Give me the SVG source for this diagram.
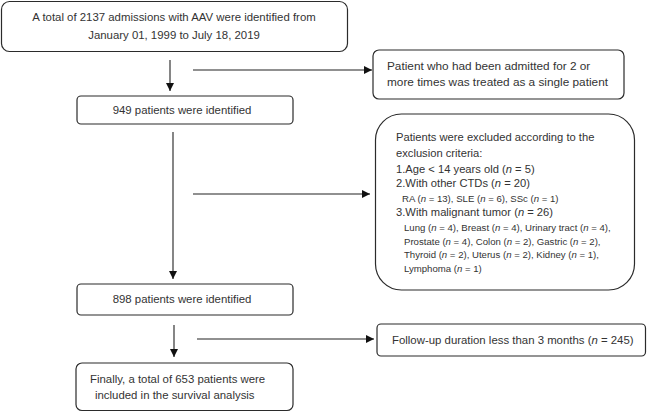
<svg xmlns="http://www.w3.org/2000/svg" width="647" height="412" viewBox="0 0 647 412">
<style>
.box{fill:#fff;stroke:#2b2b2b;stroke-width:1.2}
.t{font-family:"Liberation Sans",Arial,sans-serif;font-size:11.4px;fill:#333}
.s{font-family:"Liberation Sans",Arial,sans-serif;font-size:9.6px;fill:#333}
.m{font-size:11.2px}
.b2{font-size:11.8px}
.c{text-anchor:middle}
.ln{stroke:#222;stroke-width:1.1;fill:none}
</style>
<defs>
<marker id="ah" viewBox="0 0 10 10" refX="10" refY="5" markerWidth="8" markerHeight="8" markerUnits="userSpaceOnUse" orient="auto">
<path d="M0,0 L10,5 L0,10 z" fill="#111"/>
</marker>
</defs>
<rect width="647" height="412" fill="#fff"/>
<g id="connectors">
<line class="ln" x1="170" y1="60" x2="170" y2="91" marker-end="url(#ah)"/>
<line class="ln" x1="193" y1="70" x2="372" y2="70" marker-end="url(#ah)"/>
<line class="ln" x1="173" y1="132" x2="173" y2="279" marker-end="url(#ah)"/>
<line class="ln" x1="193" y1="194" x2="370" y2="194" marker-end="url(#ah)"/>
<line class="ln" x1="174" y1="325" x2="174" y2="357" marker-end="url(#ah)"/>
<line class="ln" x1="197" y1="339" x2="374" y2="339" marker-end="url(#ah)"/>
</g>
<g id="n1">
<rect class="box" x="1.5" y="1.5" width="346" height="50" rx="8"/>
<text class="t c" x="174" y="21">A total of 2137 admissions with AAV were identified from</text>
<text class="t c" x="174" y="39">January 01, 1999 to July 18, 2019</text>
</g>
<g id="n2">
<rect class="box" x="373" y="50" width="251" height="49" rx="6"/>
<text class="t b2" x="387" y="70">Patient who had been admitted for 2 or</text>
<text class="t b2" x="387" y="86">more times was treated as a single patient</text>
</g>
<g id="n3">
<rect class="box" x="77" y="96" width="216" height="28" rx="4"/>
<text class="t c" x="182" y="114">949 patients were identified</text>
</g>
<g id="n4">
<rect class="box" x="375.5" y="114" width="259" height="176" rx="26"/>
<text class="t m" x="396" y="141">Patients were excluded according to the</text>
<text class="t m" x="396" y="157">exclusion criteria:</text>
<text class="t m" x="396" y="173">1.Age &lt; 14 years old (<tspan font-style="italic">n</tspan> = 5)</text>
<text class="t m" x="396" y="187">2.With other CTDs (<tspan font-style="italic">n</tspan> = 20)</text>
<text class="s" x="402" y="202">RA (<tspan font-style="italic">n</tspan> = 13), SLE (<tspan font-style="italic">n</tspan> = 6), SSc (<tspan font-style="italic">n</tspan> = 1)</text>
<text class="t m" x="396" y="216">3.With malignant tumor (<tspan font-style="italic">n</tspan> = 26)</text>
<text class="s" x="404" y="231">Lung (<tspan font-style="italic">n</tspan> = 4), Breast (<tspan font-style="italic">n</tspan> = 4), Urinary tract (<tspan font-style="italic">n</tspan> = 4),</text>
<text class="s" x="404" y="245">Prostate (<tspan font-style="italic">n</tspan> = 4), Colon (<tspan font-style="italic">n</tspan> = 2), Gastric (<tspan font-style="italic">n</tspan> = 2),</text>
<text class="s" x="404" y="258">Thyroid (<tspan font-style="italic">n</tspan> = 2), Uterus (<tspan font-style="italic">n</tspan> = 2), Kidney (<tspan font-style="italic">n</tspan> = 1),</text>
<text class="s" x="404" y="272">Lymphoma (<tspan font-style="italic">n</tspan> = 1)</text>
</g>
<g id="n5">
<rect class="box" x="77" y="284" width="216" height="31" rx="4"/>
<text class="t c" x="182" y="303">898 patients were identified</text>
</g>
<g id="n6">
<rect class="box" x="377" y="324" width="268.5" height="32" rx="4"/>
<text class="t" x="392" y="344">Follow-up duration less than 3 months (<tspan font-style="italic">n</tspan> = 245)</text>
</g>
<g id="n7">
<rect class="box" x="76" y="363" width="217" height="47.5" rx="6"/>
<text class="t" x="90" y="383">Finally, a total of 653 patients were</text>
<text class="t" x="95" y="399">included in the survival analysis</text>
</g>
</svg>
